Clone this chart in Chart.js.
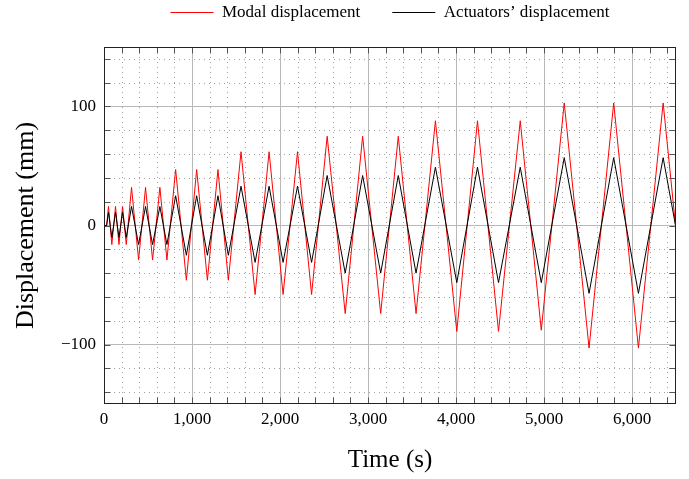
<!DOCTYPE html>
<html><head><meta charset="utf-8">
<script src="https://cdn.jsdelivr.net/npm/chart.js@4/dist/chart.umd.min.js"></script>
<style>html,body{margin:0;padding:0;background:#fff}#wrap{width:689px;height:479px;position:relative}</style>
</head><body><div id="wrap"><canvas id="c"></canvas></div>
<script>
// ---- data ----
const timeS = [0, 30, 51, 89, 131, 170, 211, 253, 313, 393, 472, 552, 635, 715,
  814, 936, 1053, 1175, 1295, 1413, 1557, 1717, 1876, 2035, 2199, 2359,
  2536, 2741, 2939, 3144, 3344, 3546, 3766, 4009, 4244, 4483, 4730, 4969,
  5230, 5512, 5792, 6073, 6354, 6635];
const modalDisp = [0, 0, 16, -16, 16, -16, 16, -16, 32, -29, 32, -29, 32, -29,
  47, -46, 47, -46, 47, -46, 62, -58, 62, -58, 62, -58,
  75, -74, 75, -74, 75, -74, 88, -89, 88, -89, 88, -88,
  103, -103, 103, -103, 103, -103];
const actuatorDisp = [0, 0, 11, -10, 11, -10, 11, -10, 16, -16, 16, -16, 16, -16,
  25, -25, 25, -25, 25, -25, 33, -31, 33, -31, 33, -31,
  42, -40, 42, -40, 42, -40, 49, -48, 49, -48, 49, -48,
  57, -57, 57, -57, 57, -57];
const seriesNames = ['Modal displacement', 'Actuators\u2019 displacement'];
const xTickValues = [0, 1000, 2000, 3000, 4000, 5000, 6000];
const yTickValues = [-100, 0, 100];
const xMinorTicks = [0,200,400,600,800,1000,1200,1400,1600,1800,2000,2200,2400,2600,2800,3000,3200,3400,3600,3800,4000,4200,4400,4600,4800,5000,5200,5400,5600,5800,6000,6200,6400];
const yMinorTicks = [-140,-120,-100,-80,-60,-40,-20,0,20,40,60,80,100,120,140];
const xTitle = 'Time (s)';
const yTitle = 'Displacement (mm)';

const FONT = "'Liberation Serif', 'Times New Roman', serif";
Chart.defaults.font.family = FONT;
Chart.defaults.font.size = 17;
Chart.defaults.color = '#000';

const pgfPlugin = {
  id: 'pgfFrame',
  afterLayout(chart) {
    const lg = chart.legend;
    if (lg) { lg.left = chart.chartArea.left; lg.right = chart.chartArea.right; }
  },
  beforeDatasetsDraw(chart) {
    const {ctx, chartArea: a, scales: {x, y}} = chart;
    ctx.save();
    ctx.beginPath();
    ctx.strokeStyle = '#a2a2a2';
    ctx.lineWidth = 1;
    ctx.setLineDash([1, 4]);
    xMinorTicks.forEach(v => {
      if (xTickValues.includes(v)) return;
      const p = Math.round(x.getPixelForValue(v)) + 0.5;
      ctx.moveTo(p, a.top); ctx.lineTo(p, a.bottom);
    });
    yMinorTicks.forEach(v => {
      if (yTickValues.includes(v)) return;
      const p = Math.round(y.getPixelForValue(v)) + 0.5;
      ctx.moveTo(a.left, p); ctx.lineTo(a.right, p);
    });
    ctx.stroke();
    ctx.restore();
  },
  afterDatasetsDraw(chart) {
    const {ctx, chartArea: a, scales: {x, y}} = chart;
    const L = Math.round(a.left) + 0.5, R = Math.round(a.right) - 0.5;
    const T = Math.round(a.top) + 0.5, B = Math.round(a.bottom) - 0.5;
    ctx.save();
    ctx.beginPath();
    ctx.strokeStyle = '#555';
    ctx.lineWidth = 1;
    const tl = 6;
    xMinorTicks.forEach(v => {
      const p = Math.round(x.getPixelForValue(v)) + 0.5;
      ctx.moveTo(p, T); ctx.lineTo(p, T + tl);
      ctx.moveTo(p, B); ctx.lineTo(p, B - tl);
    });
    yMinorTicks.forEach(v => {
      const p = Math.round(y.getPixelForValue(v)) + 0.5;
      ctx.moveTo(L, p); ctx.lineTo(L + tl, p);
      ctx.moveTo(R, p); ctx.lineTo(R - tl, p);
    });
    ctx.stroke();
    ctx.beginPath();
    ctx.strokeStyle = '#222';
    ctx.strokeRect(L, T, R - L, B - T);
    ctx.restore();
  }
};

const toPts = vals => timeS.map((t, i) => ({x: t, y: vals[i]}));

new Chart(document.getElementById('c'), {
  type: 'line',
  data: {
    datasets: [
      {label: seriesNames[0], data: toPts(modalDisp), borderColor: '#ff0000', backgroundColor: '#ff0000',
       borderWidth: 1, pointRadius: 0, tension: 0, order: 2},
      {label: seriesNames[1], data: toPts(actuatorDisp), borderColor: '#000000', backgroundColor: '#000000',
       borderWidth: 1, pointRadius: 0, tension: 0, order: 1}
    ]
  },
  options: {
    responsive: true,
    maintainAspectRatio: false,
    animation: false,
    layout: {padding: {top: -28, right: 13, bottom: 0, left: 0}},
    plugins: {
      tooltip: {enabled: false},
      legend: {
        display: true,
        position: 'top',
        labels: {
          boxWidth: 43,
          boxHeight: 1,
          padding: 32,
          font: {size: 17, family: FONT},
          color: '#000',
          generateLabels(chart) {
            const items = Chart.defaults.plugins.legend.labels.generateLabels(chart);
            return items.map(it => Object.assign({}, it, {fillStyle: it.strokeStyle, lineWidth: 0}))
                        .sort((p, q) => p.datasetIndex - q.datasetIndex);
          }
        }
      }
    },
    scales: {
      x: {
        type: 'linear', position: 'bottom', min: 0, max: 6500,
        afterBuildTicks(s) { s.ticks = xTickValues.map(v => ({value: v})); },
        afterFit(s) { s.height = 75; },
        ticks: {padding: 5, maxRotation: 0, autoSkip: false,
                callback: v => v.toLocaleString('en-US'), font: {size: 17, family: FONT}},
        grid: {color: '#b8b8b8', lineWidth: 1, drawTicks: false},
        border: {display: false},
        title: {display: true, text: xTitle, font: {size: 25, family: FONT}, padding: {top: 0, bottom: 4}, color: '#000'}
      },
      xTop: {
        type: 'linear', position: 'top', min: 0, max: 6500, display: true,
        afterFit(s) { s.height = 16; },
        ticks: {display: false},
        grid: {display: false, drawTicks: false},
        border: {display: false}
      },
      y: {
        type: 'linear', position: 'left', min: -150, max: 150,
        afterBuildTicks(s) { s.ticks = yTickValues.map(v => ({value: v})); },
        afterFit(s) { s.width = 104; },
        ticks: {padding: 8, callback: v => (v < 0 ? '\u2212' + Math.abs(v) : String(v)), font: {size: 17, family: FONT}},
        grid: {color: '#b8b8b8', lineWidth: 1, drawTicks: false},
        border: {display: false},
        title: {display: true, text: yTitle, font: {size: 26, family: FONT}, padding: {top: 11, bottom: 0}, color: '#000'}
      }
    }
  },
  plugins: [pgfPlugin]
});
</script>
</body></html>
